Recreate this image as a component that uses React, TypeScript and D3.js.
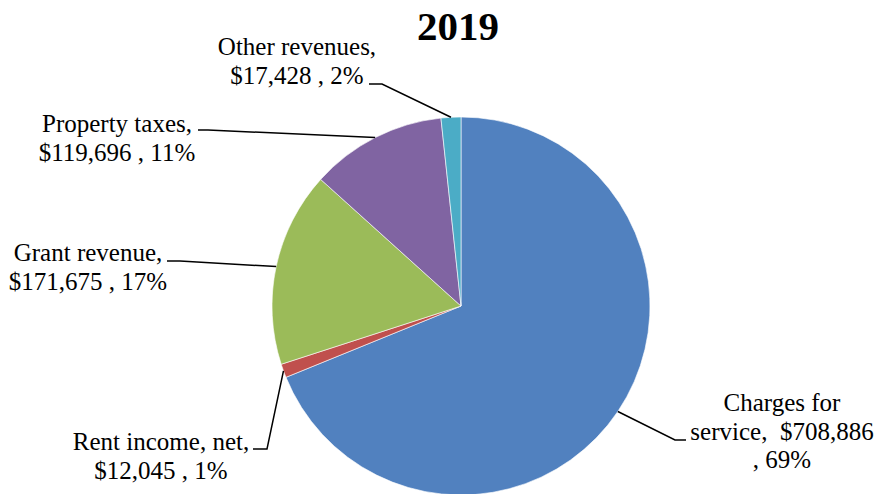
import React from "react";
import * as d3 from "d3";

const categories = ["Charges for service", "Rent income, net", "Grant revenue", "Property taxes", "Other revenues"];
const values = [708886, 12045, 171675, 119696, 17428];
const labelLines = [
  ["Charges for", "service,  $708,886", ", 69%"],
  ["Rent income, net,", "$12,045 , 1%"],
  ["Grant revenue,", "$171,675 , 17%"],
  ["Property taxes,", "$119,696 , 11%"],
  ["Other revenues,", "$17,428 , 2%"],
];
const colors = ["#5181BF", "#C0504D", "#9BBB59", "#8064A2", "#4BACC6"];
const title = "2019";

// layout of labels: text center x, first baseline y, leader elbow and end
const labelLayout = [
  { x: 782, y: 411, elbow: [675, 440], end: [686, 440] },
  { x: 161, y: 450, elbow: [267, 449], end: [253, 449] },
  { x: 88, y: 261, elbow: [180, 261], end: [167, 261] },
  { x: 117, y: 132, elbow: [208, 130], end: [198, 130] },
  { x: 297, y: 55, elbow: [382, 84], end: [369, 84] },
];

const W = 877;
const H = 494;
const cx = 461;
const cy = 306;
const R = 189;
const FONT = "'Liberation Serif', 'Times New Roman', serif";

export default function App() {
  const pie = d3.pie<number>().value((d) => d).sort(null);
  const arcs = pie(values);
  const arc = d3.arc<d3.PieArcDatum<number>>().innerRadius(0).outerRadius(R);

  return (
    <svg
      width={W}
      height={H}
      style={{ position: "absolute", left: 0, top: 0, background: "#fff" }}
      fontFamily={FONT}
    >
      <text x={458} y={40} textAnchor="middle" fontSize={41} fontWeight="bold" fill="#000">
        {title}
      </text>
      <g transform={`translate(${cx},${cy})`}>
        {arcs.map((a, i) => (
          <path key={categories[i]} d={arc(a) || ""} fill={colors[i]} stroke="#fff" strokeWidth={0.6} />
        ))}
      </g>
      {arcs.map((a, i) => {
        const mid = (a.startAngle + a.endAngle) / 2;
        const px = cx + R * Math.sin(mid);
        const py = cy - R * Math.cos(mid);
        const L = labelLayout[i];
        return (
          <g key={"lbl" + i}>
            <polyline
              points={`${px},${py} ${L.elbow[0]},${L.elbow[1]} ${L.end[0]},${L.end[1]}`}
              fill="none"
              stroke="#000"
              strokeWidth={1.5}
            />
            <text textAnchor="middle" fontSize={25} fill="#000">
              {labelLines[i].map((t, j) => (
                <tspan key={j} x={L.x} y={L.y + j * 28.7} style={{ whiteSpace: "pre" }}>
                  {t}
                </tspan>
              ))}
            </text>
          </g>
        );
      })}
    </svg>
  );
}
